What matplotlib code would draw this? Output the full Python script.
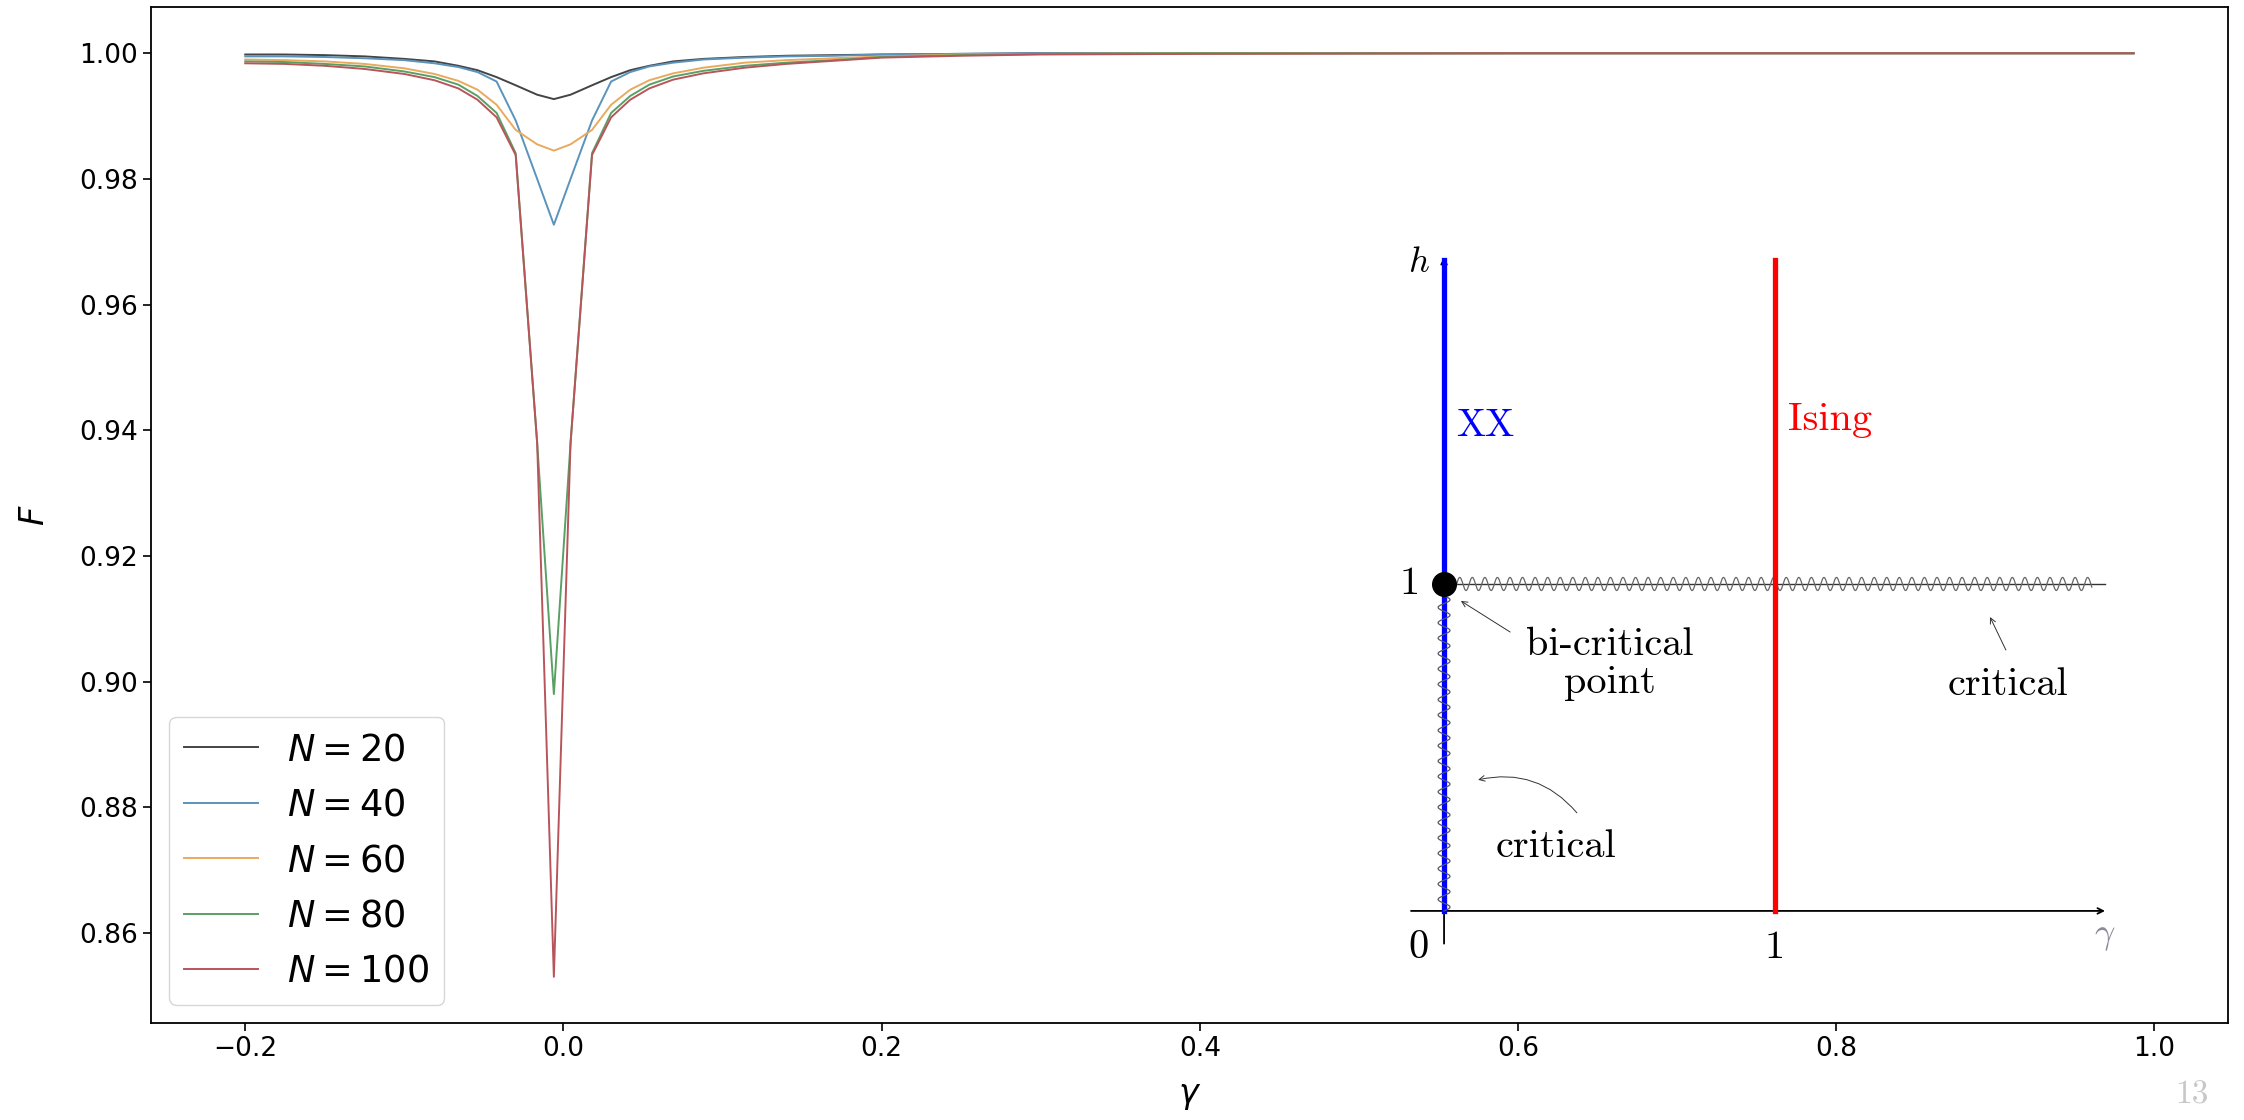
import numpy as np
import matplotlib
matplotlib.use("Agg")
import matplotlib.pyplot as plt

# fidelity curves
gamma = [-0.2, -0.175, -0.15, -0.125, -0.1, -0.081, -0.066, -0.054, -0.042, -0.030, -0.0165, -0.006,
         0.0045, 0.018, 0.030, 0.042, 0.054, 0.069, 0.088, 0.114, 0.14, 0.17, 0.2, 0.25, 0.3, 0.4, 0.6, 0.8, 0.987]

F_20 = [0.9998, 0.9998, 0.9997, 0.9995, 0.9991, 0.9987, 0.9980, 0.9973, 0.9962, 0.9949, 0.9934, 0.9927,
        0.9934, 0.9949, 0.9962, 0.9973, 0.9980, 0.9987, 0.9991, 0.9994, 0.9996, 0.9997, 0.9998, 0.9999, 1.0, 1.0, 1.0, 1.0, 1.0]
F_40 = [0.9995, 0.9995, 0.9994, 0.9992, 0.9989, 0.9984, 0.9978, 0.9970, 0.9955, 0.9893, 0.9800, 0.9727,
        0.9800, 0.9893, 0.9955, 0.9970, 0.9979, 0.9985, 0.9990, 0.9993, 0.9995, 0.9996, 0.9998, 0.9999, 1.0, 1.0, 1.0, 1.0, 1.0]
F_60 = [0.9990, 0.9989, 0.9987, 0.9983, 0.9976, 0.9967, 0.9956, 0.9942, 0.9918, 0.9878, 0.9855, 0.9845,
        0.9855, 0.9878, 0.9918, 0.9942, 0.9957, 0.9968, 0.9977, 0.9985, 0.9989, 0.9992, 0.9995, 0.9998, 0.9999, 1.0, 1.0, 1.0, 1.0]
F_80 = [0.9987, 0.9986, 0.9983, 0.9979, 0.9971, 0.9962, 0.9950, 0.9932, 0.9905, 0.9841, 0.9380, 0.8980,
        0.9380, 0.9841, 0.9905, 0.9932, 0.9950, 0.9963, 0.9972, 0.9980, 0.9985, 0.9989, 0.9994, 0.9997, 0.9999, 1.0, 1.0, 1.0, 1.0]
F_100 = [0.9984, 0.9983, 0.9980, 0.9975, 0.9967, 0.9957, 0.9944, 0.9926, 0.9898, 0.9838, 0.9380, 0.8530,
         0.9380, 0.9838, 0.9898, 0.9926, 0.9944, 0.9958, 0.9968, 0.9977, 0.9983, 0.9988, 0.9993, 0.9996, 0.9998, 0.9999, 1.0, 1.0, 1.0]

sizes = [20, 40, 60, 80, 100]
curves = [F_20, F_40, F_60, F_80, F_100]
colors = ['#444444', '#5a93bb', '#e9aa60', '#5aa065', '#b8555b']

# phase diagram inset
xx_gamma = 0.0
ising_gamma = 1.0
critical_h = 1.0

fig = plt.figure(figsize=(22.44, 11.2), dpi=100)
ax = fig.add_axes([0.0672, 0.0866, 0.9257, 0.9071])

for n, f, c in zip(sizes, curves, colors):
    ax.plot(gamma, f, color=c, lw=1.4, label='$N = %d$' % n)

ax.set_xlabel(r'$\gamma$', fontsize=24, labelpad=12)
ax.set_ylabel(r'$F$', fontsize=24, labelpad=20)
ax.tick_params(labelsize=19, length=6, width=1.2)
for s in ax.spines.values():
    s.set_linewidth(1.3)
ax.legend(loc='lower left', fontsize=26.5, borderaxespad=0.5)

# inset: XY phase diagram
axi = fig.add_axes([0.6067, 0.0991, 0.3461, 0.7152])
axi.set_xlim(-0.25, 2.1)
axi.set_ylim(-0.3, 2.15)
axi.axis('off')
axi.patch.set_alpha(0)

axi.annotate('', xy=(2.0, 0), xytext=(-0.1, 0),
             arrowprops=dict(arrowstyle='->', lw=1.3, color='k', shrinkA=0, shrinkB=0))
axi.annotate('', xy=(0, 2.0), xytext=(0, -0.1),
             arrowprops=dict(arrowstyle='->', lw=1.3, color='k', shrinkA=0, shrinkB=0))

axi.plot([xx_gamma, xx_gamma], [0, 1.99], color='#0000ff', lw=3.8, zorder=3)
axi.plot([ising_gamma, ising_gamma], [0, 1.99], color='#ff0000', lw=3.8, zorder=3)

# critical lines, drawn with a snake decoration
t = np.linspace(0.03, 1.96, 3000)
axi.plot([0.03, 2.0], [critical_h, critical_h], color='#333333', lw=1.0, zorder=2)
axi.plot(t, critical_h + 0.02 * np.sin(2 * np.pi * t / 0.038), color='#666666', lw=0.9, zorder=2)
s = np.linspace(0.0, critical_h - 0.03, 2000)
axi.plot(xx_gamma + 0.018 * np.sin(2 * np.pi * s / 0.047), s, color='#555566', lw=0.9, zorder=4)

axi.plot([xx_gamma], [critical_h], 'o', color='k', ms=17, zorder=5)

cm = dict(fontfamily='cmr10', fontsize=29)
axi.text(-0.076, 1.985, r'$h$', math_fontfamily='cm', fontsize=26, ha='center', va='center')
axi.text(2.0, -0.076, r'$\gamma$', math_fontfamily='cm', fontsize=26, ha='center', va='center', color='#8a8a9a')
axi.text(-0.076, -0.113, '0', ha='center', va='center', **cm)
axi.text(ising_gamma, -0.113, '1', ha='center', va='center', **cm)
axi.text(-0.105, critical_h, '1', ha='center', va='center', **cm)
axi.text(0.036, 1.483, 'XX', color='#0000ff', ha='left', va='center', fontfamily='cmr10', fontsize=28)
axi.text(1.04, 1.50, 'Ising', color='#ff0000', ha='left', va='center', **cm)
axi.text(0.502, 0.755, 'bi-critical\npoint', ha='center', va='center', linespacing=1.1, **cm)
axi.text(1.706, 0.69, 'critical', ha='center', va='center', **cm)
axi.text(0.339, 0.196, 'critical', ha='center', va='center', **cm)

thin = dict(arrowstyle='->', lw=0.7, color='#333333', shrinkA=0, shrinkB=0)
axi.annotate('', xy=(0.051, 0.948), xytext=(0.20, 0.853), arrowprops=thin)
axi.annotate('', xy=(1.652, 0.899), xytext=(1.70, 0.798), arrowprops=thin)
axi.annotate('', xy=(0.103, 0.401), xytext=(0.402, 0.300),
             arrowprops=dict(thin, connectionstyle='arc3,rad=0.3'))

fig.text(2192 / 2244, 1 - 1095 / 1120, '13', fontfamily='cmr10', fontsize=24,
         color='#c8c8c8', ha='center', va='center')

fig.savefig('out.png', dpi=100)
